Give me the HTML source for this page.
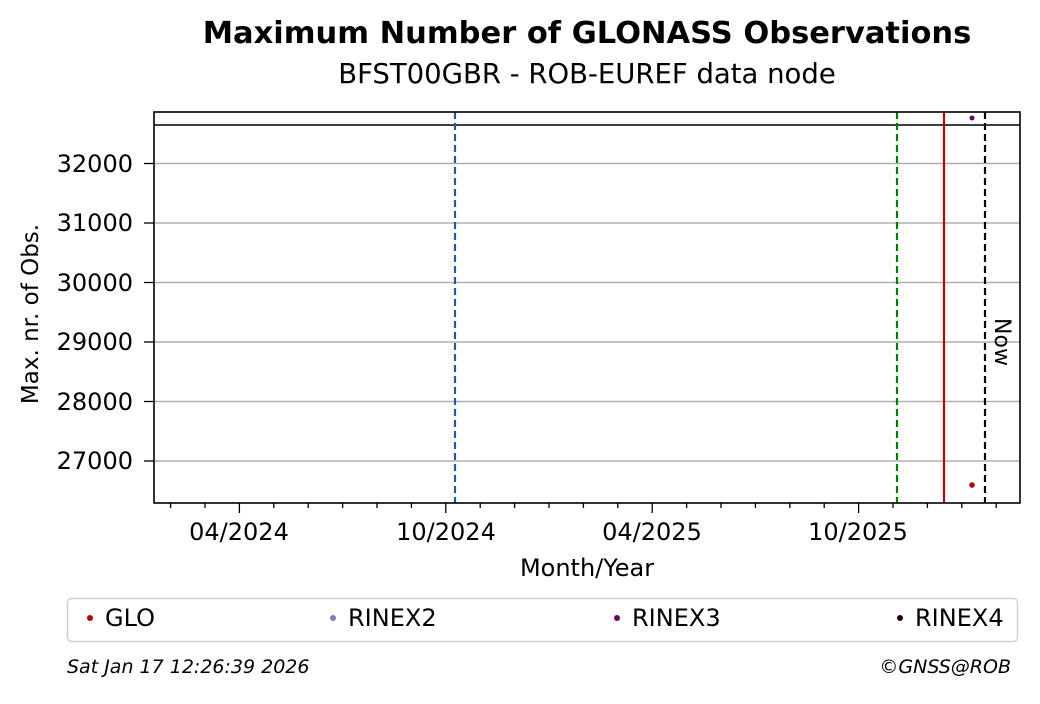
<!DOCTYPE html>
<html><head><style>body{margin:0;background:#fff}</style></head><body>
<svg width="1040" height="699" xmlns="http://www.w3.org/2000/svg" font-family="'DejaVu Sans','Liberation Sans',sans-serif">
<text x="587" y="43" text-anchor="middle" font-size="30.5" font-weight="bold">Maximum Number of GLONASS Observations</text>
<text x="587" y="83" text-anchor="middle" font-size="27.5">BFST00GBR - ROB-EUREF data node</text>
<g stroke="#b0b0b0" stroke-width="1.6">
<line x1="154" x2="1020" y1="163.5" y2="163.5"/><line x1="154" x2="1020" y1="223" y2="223"/>
<line x1="154" x2="1020" y1="282.5" y2="282.5"/><line x1="154" x2="1020" y1="342" y2="342"/>
<line x1="154" x2="1020" y1="401.5" y2="401.5"/><line x1="154" x2="1020" y1="461" y2="461"/>
</g>
<line x1="154" x2="1020" y1="125" y2="125" stroke="#000" stroke-width="1.6"/>
<line x1="455" x2="455" y1="112" y2="503" stroke="#1f5aa0" stroke-width="2.2" stroke-dasharray="7,4"/>
<line x1="897" x2="897" y1="112" y2="503" stroke="#008000" stroke-width="2.2" stroke-dasharray="7,4"/>
<line x1="944" x2="944" y1="112" y2="503" stroke="#c00000" stroke-width="2.2"/>
<line x1="985" x2="985" y1="112" y2="503" stroke="#000" stroke-width="2.2" stroke-dasharray="7,4"/>
<circle cx="972" cy="118" r="2.5" fill="#6a0060"/>
<circle cx="972" cy="485" r="2.8" fill="#c00000"/>
<text transform="translate(995,342) rotate(90)" text-anchor="middle" font-size="22">Now</text>
<rect x="154" y="112" width="866" height="391" fill="none" stroke="#000" stroke-width="1.6"/>
<g stroke="#000" stroke-width="1.3">
<line x1="154" x2="144" y1="163.5" y2="163.5"/><line x1="154" x2="144" y1="223" y2="223"/>
<line x1="154" x2="144" y1="282.5" y2="282.5"/><line x1="154" x2="144" y1="342" y2="342"/>
<line x1="154" x2="144" y1="401.5" y2="401.5"/><line x1="154" x2="144" y1="461" y2="461"/>
<path d="M170.6 503v5M205 503v5M273.8 503v5M308.2 503v5M342.6 503v5M377 503v5M411.4 503v5M480.2 503v5M514.6 503v5M549 503v5M583.4 503v5M617.8 503v5M686.6 503v5M721 503v5M755.4 503v5M789.8 503v5M824.2 503v5M893 503v5M927.4 503v5M961.8 503v5M996.2 503v5"/>
<path d="M239.4 503v10M445.8 503v10M652.2 503v10M858.6 503v10"/>
</g>
<g font-size="24" text-anchor="end">
<text x="133" y="172">32000</text><text x="133" y="231">31000</text><text x="133" y="291">30000</text>
<text x="133" y="350">29000</text><text x="133" y="410">28000</text><text x="133" y="469">27000</text>
</g>
<g font-size="24" text-anchor="middle">
<text x="239" y="540">04/2024</text><text x="446" y="540">10/2024</text><text x="652" y="540">04/2025</text><text x="858" y="540">10/2025</text>
<text x="587" y="576">Month/Year</text>
</g>
<text transform="translate(38,314) rotate(-90)" text-anchor="middle" font-size="23">Max. nr. of Obs.</text>
<rect x="67.5" y="598.5" width="950" height="43" rx="4" fill="#fff" stroke="#d0d0d0" stroke-width="1.5"/>
<g font-size="24">
<circle cx="90" cy="618" r="3" fill="#c00000"/><text x="105" y="626">GLO</text>
<circle cx="333" cy="618" r="3" fill="#7b7bbf"/><text x="348" y="626">RINEX2</text>
<circle cx="617" cy="618" r="3" fill="#6a0060"/><text x="632" y="626">RINEX3</text>
<circle cx="900" cy="618" r="3" fill="#200018"/><text x="915" y="626">RINEX4</text>
</g>
<text x="67" y="673" font-size="19" font-style="italic">Sat Jan 17 12:26:39 2026</text>
<text x="1011" y="673" font-size="19" font-style="italic" text-anchor="end">©GNSS@ROB</text>
</svg>
</body></html>
